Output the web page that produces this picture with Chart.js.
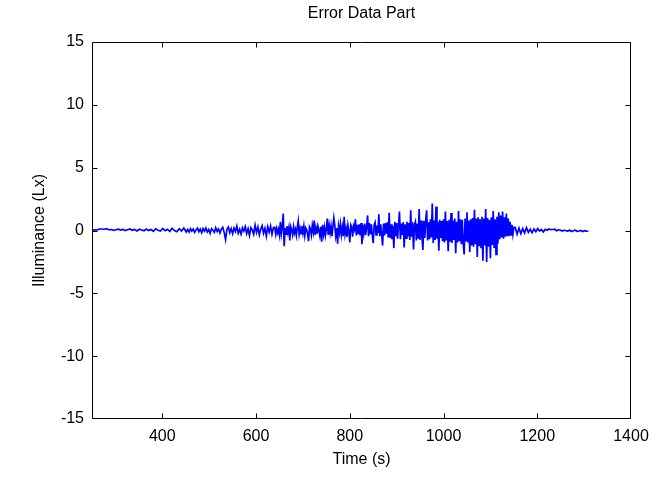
<!DOCTYPE html>
<html><head><meta charset="utf-8">
<script src="https://cdn.jsdelivr.net/npm/chart.js@4/dist/chart.umd.min.js"></script>
<style>html,body{margin:0;padding:0;background:#fff}#wrap{width:659px;height:477px;position:relative}</style>
</head><body><div id="wrap"><canvas id="c" width="659" height="477"></canvas></div>
<script>
const titleText = 'Error Data Part';
const xLabel = 'Time (s)';
const yLabel = 'Illuminance (Lx)';
const xTicks = [400, 600, 800, 1000, 1200, 1400];
const yTicks = [-15, -10, -5, 0, 5, 10, 15];

// quiet start
const timeA = [251,256,261,266,271,276,281,286,291,296,301,306,311,316,321,326,331,336,341,346,351,356,361,366,371,376,381,386,391,396,401,406,411,416,421,426,431,436,441,446,451];
const luxA = [0.05,0.05,0.04,0.12,0.12,0.10,0.14,0.06,0.08,0.02,
  0.06,0.10,0.04,0.08,0.00,0.06,0.12,0.02,0.08,-0.04,
  0.10,0.04,-0.02,0.12,0.00,0.08,-0.06,0.14,0.02,-0.04,
  0.16,-0.02,0.10,-0.08,0.18,0.00,-0.10,0.14,-0.04,0.20,
  -0.12];

// rising noise
const timeB = [454,457,460,463,466,469,472,475,478,481,484,487,490,493,496,499,502,505,508,511,514,517,520,523,526,529,532,535,538,541,544,547,550,553,556,559,562,565,568,571,574,577,580,583,586,589,592,595,598,601,604,607,610,613,616,619,622,625,628,631,634,637];
const luxB = [0.08,-0.12,0.15,-0.05,0.12,-0.15,0.05,0.18,-0.10,0.12,
  -0.18,0.15,-0.05,0.20,-0.12,0.08,-0.22,0.15,0.02,-0.15,
  0.22,-0.08,0.12,-0.20,0.10,0.25,-0.15,-0.72,0.12,0.28,
  -0.18,0.15,-0.25,0.20,-0.08,0.35,-0.22,0.10,-0.28,0.22,
  -0.05,0.30,-0.25,0.15,-0.40,0.22,0.05,-0.30,0.42,-0.15,
  0.28,-0.35,0.12,0.38,-0.22,0.18,-0.45,0.30,-0.12,0.35,
  -0.30,0.22];

// active part
const timeC = [640,642,644,646,648,650,652,654,656,658,
  660,662,664,666,668,670,672,674,676,678,
  680,682,684,686,688,690,692,694,696,698,
  700,702,704,706,708,710,712,714,716,718,
  720,722,724,726,728,730,732,734,736,738,
  740,742,744,746,748,750,752,754,756,758,
  760,762,764,766,768,770,772,774,776,778,
  780,782,784,786,788,790,792,794,796,798,
  800,802,804,806,808,810,812,814,816,818,
  820,822,824,826,828,830,832,834,836,838,
  840,842,844,846,848,850,852,854,856,858,
  860,862,864,866,868,870,872,874,876,878,
  880,882,884,886,888,890,892,894,896,898,
  900,902,904,906,908,910,912,914,916,918,
  920,922,924,926,928,930,932,934,936,938,
  940,942,944,946,948,950,952,954,956,958,
  960,962,964,966,968,970,972,974,976,978,
  980,982,984,986,988,990,992,994,996,998,
  1000,1002,1004,1006,1008,1010,1012,1014,1016,1018,
  1020,1022,1024,1026,1028,1030,1032,1034,1036,1038,
  1040,1042,1044,1046,1048,1050,1052,1054,1056,1058,
  1060,1062,1064,1066,1068,1070,1072,1074,1076,1078,
  1080,1082,1084,1086,1088,1090,1092,1094,1096,1098,
  1100,1102,1104,1106,1108,1110,1112,1114,1116,1118,
  1120,1122,1124,1126,1128,1130,1132,1134,1136,1138,
  1140,1142,1144,1146,1148,1150];
const luxC = [0.25,-0.30,0.15,-0.20,0.10,-0.35,0.70,-0.25,0.30,1.35,
  -1.25,0.20,-0.30,0.35,-0.15,0.25,-0.80,0.30,0.05,-0.35,
  0.30,-0.20,0.10,-0.40,0.25,0.75,-0.30,0.15,-0.25,0.35,
  -0.20,0.35,-0.40,0.20,0.05,-0.30,-0.85,0.30,0.15,-0.35,
  0.40,-0.10,0.80,-0.35,0.20,-0.25,0.35,0.00,-0.40,0.30,
  -0.90,0.45,-0.30,0.25,-0.40,0.10,0.95,-0.35,0.40,-0.20,
  0.35,-0.45,0.30,1.00,0.40,-0.40,0.20,-1.05,0.35,-0.15,
  0.50,-0.35,0.25,-0.45,1.10,-0.30,0.15,-0.50,0.40,-0.10,
  -0.95,0.45,0.30,-0.50,0.35,0.10,0.90,-0.40,0.45,-0.30,
  0.50,-0.40,0.60,-1.10,0.45,-0.20,0.55,-0.35,0.30,1.20,
  -0.45,0.60,-0.30,0.50,-0.40,-1.00,0.45,0.65,-0.35,0.40,
  -0.20,1.30,-0.45,0.50,-0.30,-1.20,0.55,-0.40,0.60,-0.25,
  0.65,-0.55,1.40,-0.60,0.50,-0.70,0.35,-1.40,0.70,-0.45,
  0.60,-0.65,0.40,1.50,-0.70,0.55,-0.35,0.65,-1.35,0.50,
  -0.60,0.70,-0.45,0.60,-0.75,1.60,-0.50,0.65,-1.50,0.45,
  0.70,-0.80,0.55,-0.65,1.70,-0.75,0.80,-0.50,-1.55,0.75,
  -0.60,0.85,1.60,-0.80,0.65,-0.70,0.90,-0.55,2.15,-1.00,
  0.80,-0.75,1.90,-0.65,0.70,-1.60,0.85,-0.60,0.75,-0.85,
  0.90,-0.95,1.50,-0.80,0.75,-1.65,0.85,-0.90,1.40,-1.00,
  0.80,-0.75,0.95,-1.80,0.70,-0.95,1.55,-0.85,0.90,-1.10,
  0.85,-1.00,-1.90,0.95,-0.80,1.45,-0.95,0.80,-1.70,0.90,
  -1.20,1.00,-1.30,1.65,-1.10,0.95,-2.10,1.05,-1.25,0.90,
  -1.35,1.10,-2.40,0.95,-1.20,1.70,-2.50,1.00,-1.30,0.85,
  -2.20,1.05,-1.15,1.55,-1.40,0.90,-1.90,1.10,-1.05,1.45,
  -0.70,1.20,-0.55,1.50,-0.65,1.05,-0.50,1.35,-0.45,0.95,
  -0.45,0.70,-0.35,0.45,-0.30,0.25];

// quiet tail
const timeD = [1153,1157,1161,1165,1169,1173,1177,1181,1185,1189,1193,1197,1201,1205,1209,1213,1217,1221,1225,1229,1233,1237,1241,1245,1249,1253,1257,1261,1265,1269,1273,1277,1281,1285,1289,1293,1297,1301,1305,1309];
const luxD = [0.25,-0.30,0.20,-0.25,0.15,-0.20,0.22,-0.15,0.10,-0.18,
  0.12,-0.10,0.15,-0.05,0.08,-0.12,0.10,0.02,0.12,0.06,
  0.08,0.10,-0.02,0.05,0.04,-0.04,0.02,0.00,-0.06,0.04,
  -0.08,-0.02,0.02,-0.06,-0.04,0.00,-0.08,-0.02,-0.05,-0.06];

const time = [...timeA, ...timeB, ...timeC, ...timeD];
const lux = [...luxA, ...luxB, ...luxC, ...luxD];
const points = time.map((t, i) => ({x: t, y: lux[i]}));

const FONT = {family: '"Liberation Sans",Arial,Helvetica,sans-serif', size: 16, weight: 'normal'};

const frame = {
  id: 'frame',
  afterDraw(chart) {
    const {ctx, chartArea: a, scales: {x, y}} = chart;
    const l = Math.round(a.left) + 0.5, r = Math.round(a.right) - 0.5;
    const t = Math.round(a.top) + 0.5, b = Math.round(a.bottom) - 0.5;
    ctx.save();
    ctx.strokeStyle = '#000';
    ctx.lineWidth = 1;
    ctx.beginPath();
    ctx.rect(l, t, r - l, b - t);
    const L = 5;
    xTicks.forEach(v => {
      const p = Math.min(r, Math.round(x.getPixelForValue(v)) + 0.5);
      ctx.moveTo(p, b); ctx.lineTo(p, b - L);
      ctx.moveTo(p, t); ctx.lineTo(p, t + L);
    });
    yTicks.forEach(v => {
      const p = Math.max(t, Math.min(b, Math.round(y.getPixelForValue(v)) + 0.5));
      ctx.moveTo(l, p); ctx.lineTo(l + L, p);
      ctx.moveTo(r, p); ctx.lineTo(r - L, p);
    });
    ctx.stroke();
    // title centred over the plot box
    ctx.fillStyle = '#000';
    ctx.font = FONT.size + 'px ' + FONT.family;
    ctx.textAlign = 'center';
    ctx.textBaseline = 'middle';
    ctx.fillText(titleText, (a.left + a.right) / 2, 14);
    ctx.restore();
  }
};

new Chart(document.getElementById('c'), {
  type: 'line',
  data: {datasets: [{
    data: points,
    borderColor: '#0000ff',
    borderWidth: 1.7,
    pointRadius: 0,
    tension: 0,
    fill: false
  }]},
  options: {
    responsive: false,
    animation: false,
    layout: {padding: {left: 0, right: 28, top: 42, bottom: 0}},
    plugins: {
      legend: {display: false},
      tooltip: {enabled: false},
      title: {display: false}
    },
    scales: {
      x: {
        type: 'linear', min: 250, max: 1400,
        afterBuildTicks: s => { s.ticks = xTicks.map(v => ({value: v})); },
        grid: {display: false, drawTicks: false},
        border: {display: false},
        ticks: {color: '#000', font: FONT, padding: 8, maxRotation: 0, autoSkip: false, callback: v => String(v)},
        title: {display: true, text: xLabel, color: '#000', font: FONT, padding: {top: 0, bottom: 8}},
        afterFit: s => { s.height = 58; }
      },
      y: {
        type: 'linear', min: -15, max: 15,
        afterBuildTicks: s => { s.ticks = yTicks.map(v => ({value: v})); },
        grid: {display: false, drawTicks: false},
        border: {display: false},
        ticks: {color: '#000', font: FONT, padding: 8, autoSkip: false, callback: v => String(v)},
        title: {display: true, text: yLabel, color: '#000', font: FONT, padding: {top: 30, bottom: 0}},
        afterFit: s => { s.width = 92; }
      }
    }
  },
  plugins: [frame]
});
</script>
</body></html>
